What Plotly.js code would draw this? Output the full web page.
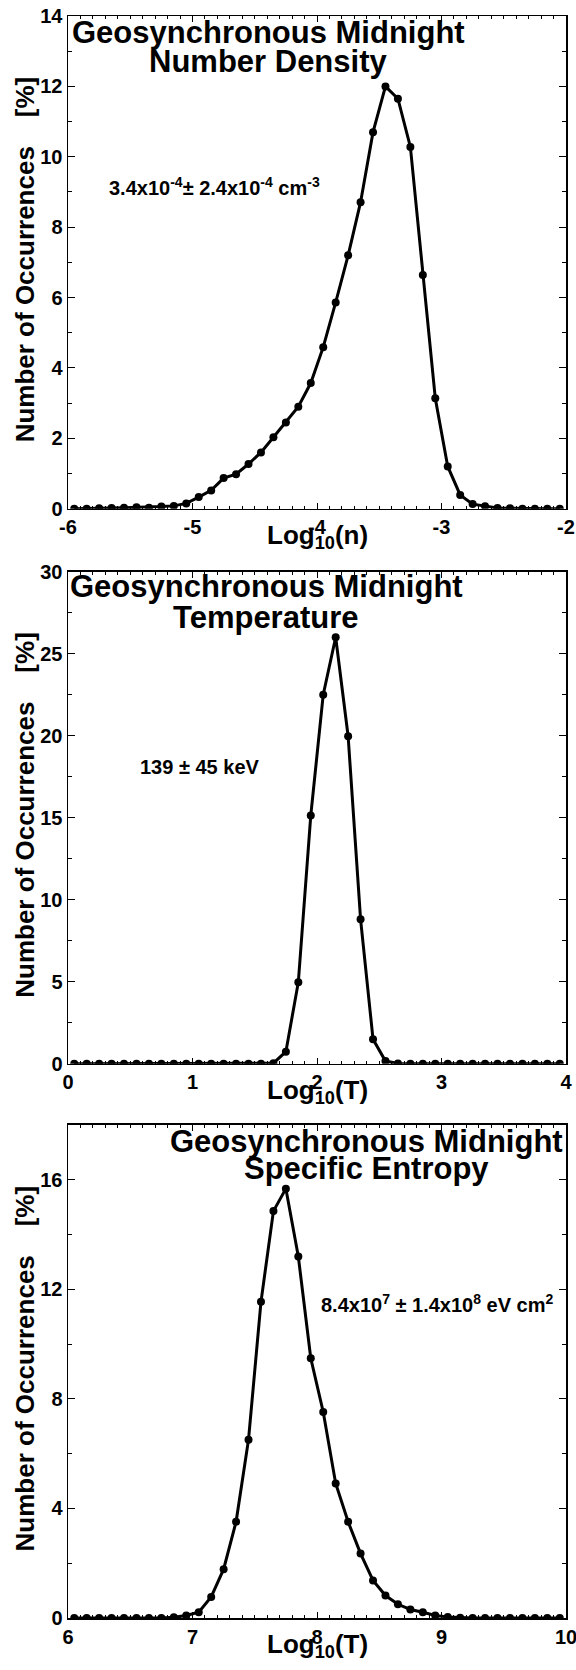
<!DOCTYPE html>
<html>
<head>
<meta charset="utf-8">
<script src="https://cdn.plot.ly/plotly-3.0.1.min.js"></script>
<style>html,body{margin:0;padding:0;background:#fff;}#chart{width:576px;height:1670px;}</style>
</head>
<body>
<div id="chart"></div>
<script>
// ---- Data ----
const densityX = [-5.95,-5.85,-5.75,-5.65,-5.55,-5.45,-5.35,-5.25,-5.15,-5.05,-4.95,-4.85,-4.75,-4.65,-4.55,-4.45,-4.35,-4.25,-4.15,-4.05,-3.95,-3.85,-3.75,-3.65,-3.55,-3.45,-3.35,-3.25,-3.15,-3.05,-2.95,-2.85,-2.75,-2.65,-2.55,-2.45,-2.35,-2.25,-2.15,-2.05];
const densityY = [0,0,0.01,0.02,0.03,0.04,0.03,0.06,0.08,0.15,0.33,0.52,0.87,0.98,1.27,1.6,2.03,2.45,2.9,3.57,4.59,5.86,7.2,8.71,10.7,12.0,11.65,10.28,6.64,3.14,1.2,0.39,0.13,0.07,0.02,0.01,0,0,0,0];

const tempX = [0.05,0.15,0.25,0.35,0.45,0.55,0.65,0.75,0.85,0.95,1.05,1.15,1.25,1.35,1.45,1.55,1.65,1.75,1.85,1.95,2.05,2.15,2.25,2.35,2.45,2.55,2.65,2.75,2.85,2.95,3.05,3.15,3.25,3.35,3.45,3.55,3.65,3.75,3.85,3.95];
const tempY = [0,0,0,0,0,0,0,0,0,0,0,0,0,0,0,0,0.04,0.74,4.98,15.14,22.5,26.0,19.97,8.81,1.5,0.17,0.02,0,0,0,0,0,0,0,0,0,0,0,0,0];

const entropyX = [6.05,6.15,6.25,6.35,6.45,6.55,6.65,6.75,6.85,6.95,7.05,7.15,7.25,7.35,7.45,7.55,7.65,7.75,7.85,7.95,8.05,8.15,8.25,8.35,8.45,8.55,8.65,8.75,8.85,8.95,9.05,9.15,9.25,9.35,9.45,9.55,9.65,9.75,9.85,9.95];
const entropyY = [0,0,0,0,0,0,0,0,0.03,0.09,0.21,0.77,1.78,3.51,6.51,11.54,14.85,15.67,13.19,9.48,7.52,4.91,3.51,2.35,1.37,0.82,0.5,0.31,0.21,0.09,0.04,0.01,0,0,0,0,0,0,0,0];

const densityTickVals = [-6,-5,-4,-3,-2];
const densityTickText = ["-6","-5","-4","-3","-2"];

const panelTitles1 = ["Geosynchronous Midnight","Geosynchronous Midnight","Geosynchronous Midnight"];
const panelTitles2 = ["Number Density","Temperature","Specific Entropy"];
const statsText = ["3.4x10<sup>-4</sup>\u00B1 2.4x10<sup>-4</sup> cm<sup>-3</sup>", "139 \u00B1 45 keV", "8.4x10<sup>7</sup> \u00B1 1.4x10<sup>8</sup> eV cm<sup>2</sup>"];
const xTitles = ["Log<sub>10</sub>(n)","Log<sub>10</sub>(T)","Log<sub>10</sub>(T)"];
const yTitle = "Number of Occurrences\u00A0\u00A0\u00A0\u00A0[%]";

// ---- Layout geometry (pixels) ----
const W = 576, H = 1670, L = 68, R = 10, T = 15.5, B = 51.5;
const pw = W - L - R, ph = H - T - B;
const fx = p => (p - L) / pw;
const fy = p => (H - B - p) / ph;
const tops = [15.5, 571.5, 1125];
const bots = [508.5, 1064, 1618.5];

const FONT = "Liberation Sans, Arial, Helvetica, sans-serif";
const black = "#000";

function xaxis(range, anchor, extra) {
  return Object.assign({
    range: range, anchor: anchor, showgrid: false, zeroline: false,
    showline: true, linecolor: black, linewidth: 1.5, mirror: "allticks",
    ticks: "inside", ticklen: 6, tickwidth: 1, tickcolor: black, dtick: 1,
    ticklabeloverflow: "allow", tickprefix: "<b>", ticksuffix: "</b>",
    tickfont: {family: FONT, size: 20, color: black, weight: "bold"},
    minor: {dtick: 0.1, ticklen: 3, tickwidth: 1, tickcolor: black, ticks: "inside", showgrid: false},
    fixedrange: true
  }, extra || {});
}
function yaxis(range, dtick, minorDtick, anchor, domain) {
  return {
    range: range, anchor: anchor, domain: domain, showgrid: false, zeroline: false,
    showline: true, linecolor: black, linewidth: 1.5, mirror: "allticks",
    ticks: "inside", ticklen: 7, tickwidth: 1, tickcolor: black, dtick: dtick, tick0: 0,
    ticklabeloverflow: "allow", tickprefix: "<b>", ticksuffix: "</b>",
    tickfont: {family: FONT, size: 20, color: black, weight: "bold"},
    minor: {dtick: minorDtick, ticklen: 4, tickwidth: 1, tickcolor: black, ticks: "inside", showgrid: false},
    fixedrange: true
  };
}

const lineStyle = {color: black, width: 3};
const markerStyle = {color: black, size: 8};
const traces = [
  {x: densityX, y: densityY, xaxis: "x", yaxis: "y", mode: "lines+markers", line: lineStyle, marker: markerStyle},
  {x: tempX, y: tempY, xaxis: "x2", yaxis: "y2", mode: "lines+markers", line: lineStyle, marker: markerStyle},
  {x: entropyX, y: entropyY, xaxis: "x3", yaxis: "y3", mode: "lines+markers", line: lineStyle, marker: markerStyle}
];

const titleFont = {family: FONT, size: 31, color: black, weight: "bold"};
const statFont = {family: FONT, size: 20, color: black, weight: "bold"};
const axFont = {family: FONT, size: 26, color: black, weight: "bold"};

function ann(text, xpx, ypx, font, extra) {
  return Object.assign({
    text: text, xref: "paper", yref: "paper", x: fx(xpx), y: fy(ypx),
    xanchor: "center", yanchor: "middle", showarrow: false, font: font
  }, extra || {});
}

// title centres (x) and baselines (y) per panel
const titleCx = [268, 266, 366];
const titleBase1 = [43, 597.5, 1153];
const titleBase2 = [72, 628, 1180];
const statCx = [214.5, 200, 437];
const statBase = [193, 774, 1311];

const annotations = [];
for (let i = 0; i < 3; i++) {
  annotations.push(ann(panelTitles1[i], titleCx[i], titleBase1[i] - 0.35 * 31, titleFont));
  annotations.push(ann(panelTitles2[i], titleCx[i], titleBase2[i] - 0.35 * 31, titleFont));
  annotations.push(ann(statsText[i], statCx[i], statBase[i] - 0.35 * 20, statFont));
  annotations.push(ann(xTitles[i], (L + W - R) / 2, bots[i] + 37 - 0.35 * 26, axFont));
  annotations.push(ann(yTitle, 25, (tops[i] + bots[i]) / 2 - 3, axFont, {textangle: -90}));
}

const layout = {
  width: W, height: H,
  margin: {l: L, r: R, t: T, b: B, pad: 0},
  paper_bgcolor: "#fff", plot_bgcolor: "#fff",
  showlegend: false,
  xaxis: xaxis([-6, -2], "y", {tickmode: "array", tickvals: densityTickVals, ticktext: densityTickText}),
  yaxis: yaxis([0, 14], 2, 1, "x", [fy(bots[0]), fy(tops[0])]),
  xaxis2: xaxis([0, 4], "y2"),
  yaxis2: yaxis([0, 30], 5, 2.5, "x2", [fy(bots[1]), fy(tops[1])]),
  xaxis3: xaxis([6, 10], "y3"),
  yaxis3: yaxis([0, 18], 4, 2, "x3", [fy(bots[2]), fy(tops[2])]),
  annotations: annotations
};

Plotly.newPlot("chart", traces, layout, {staticPlot: true, displayModeBar: false});
</script>
</body>
</html>
